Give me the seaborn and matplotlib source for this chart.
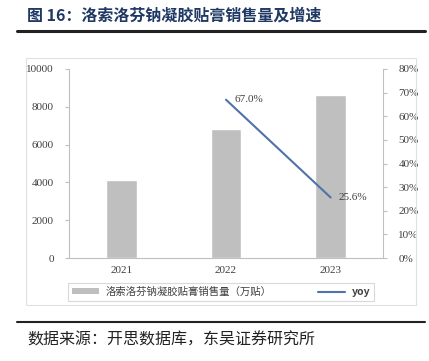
import matplotlib
matplotlib.use("Agg")
import matplotlib.pyplot as plt
from matplotlib.lines import Line2D
from matplotlib.patches import Patch, Rectangle
from matplotlib.ticker import FuncFormatter
import pandas as pd
import seaborn as sns

years = ["2021", "2022", "2023"]
sales = [4120, 6850, 8600]          # 万贴
yoy_years = ["2022", "2023"]
yoy = [0.670, 0.256]

title = "图 16：洛索洛芬钠凝胶贴膏销售量及增速"
source = "数据来源：开思数据库，东吴证券研究所"
bar_label = "洛索洛芬钠凝胶贴膏销售量（万贴）"
line_label = "yoy"

BAR_C = "#bfbfbf"
LINE_C = "#4f73a8"
AXIS_C = "#bfbfbf"
TXT_C = "#404040"

sns.set_theme(style="white")
plt.rcParams["font.family"] = ["Noto Sans CJK SC", "DejaVu Sans"]
SERIF = ["Liberation Serif", "DejaVu Serif"]

W, H = 429, 361
fig = plt.figure(figsize=(W / 100, H / 100), dpi=100)
fig.patch.set_facecolor("white")

ax = fig.add_axes([69 / W, 1 - 258 / H, (383 - 69) / W, (258 - 69) / H])
df = pd.DataFrame({"year": years, "sales": sales})
sns.barplot(data=df, x="year", y="sales", color=BAR_C, width=0.29,
            saturation=1, ax=ax, zorder=2)
ax.set_xlim(-0.5, 2.5)
ax.set_ylim(0, 10000)
ax.set_yticks(range(0, 10001, 2000))
ax.set_xlabel("")
ax.set_ylabel("")

ax2 = ax.twinx()
line_df = pd.DataFrame({"year": [years.index(y) for y in yoy_years], "yoy": yoy})
sns.lineplot(data=line_df, x="year", y="yoy", color=LINE_C, linewidth=1.5, ax=ax2)
ax2.set_ylim(0, 0.8)
ax2.set_yticks([i / 10 for i in range(9)])
ax2.yaxis.set_major_formatter(FuncFormatter(lambda v, _: f"{v * 100:.0f}%"))
ax2.set_ylabel("")
ax2.set_xlabel("")
for xi, v in zip(line_df["year"], yoy):
    ax2.annotate(f"{v * 100:.1f}%", (xi, v), xytext=(6, 0), textcoords="offset points",
                 va="center", ha="left", fontsize=8, color=TXT_C, family=SERIF)

for a in (ax, ax2):
    for s in a.spines.values():
        s.set_visible(False)
    a.tick_params(axis="both", labelsize=8, colors=AXIS_C, labelcolor=TXT_C,
                  length=3, width=0.8, pad=3)
    for lab in a.get_yticklabels() + a.get_xticklabels():
        lab.set_family(SERIF)
ax.spines["left"].set_visible(True)
ax.spines["bottom"].set_visible(True)
ax2.spines["right"].set_visible(True)
for s in (ax.spines["left"], ax.spines["bottom"], ax2.spines["right"]):
    s.set_color(AXIS_C)
    s.set_linewidth(0.8)
ax.tick_params(axis="x", length=0, pad=6)
ax.tick_params(axis="y", pad=8)
ax2.tick_params(axis="y", pad=8)

handles = [Patch(facecolor=BAR_C, edgecolor="none", label=bar_label),
           Line2D([], [], color=LINE_C, linewidth=1.5, label=line_label)]
leg = fig.legend(handles=handles, loc="center", ncol=2,
                 bbox_to_anchor=(221 / W, 1 - 292 / H), fontsize=7.5,
                 frameon=True, fancybox=False, edgecolor="#d0d0d0",
                 handlelength=2.6, handleheight=0.5, columnspacing=4.5,
                 borderpad=0.35, handletextpad=0.6)
leg.get_frame().set_linewidth(0.8)
for t in leg.get_texts():
    t.set_color(TXT_C)
leg.get_texts()[1].set_fontweight("bold")

# outer chart frame
fig.add_artist(Rectangle((26 / W, 1 - 305 / H), (416 - 26) / W, (305 - 58) / H,
                         transform=fig.transFigure, fill=False,
                         edgecolor="#e0e0e0", linewidth=0.8))

fig.text(27 / W, 1 - 16 / H, title, fontsize=11.5, fontweight="bold",
         color="#1f3864", va="center", ha="left")
fig.add_artist(Line2D([17 / W, 425 / W], [1 - 31 / H, 1 - 31 / H],
                      color="#222222", linewidth=2.2))
fig.add_artist(Line2D([17 / W, 425 / W], [1 - 322 / H, 1 - 322 / H],
                      color="#222222", linewidth=1.5))
fig.text(27 / W, 1 - 340 / H, source, fontsize=11.5, color="#222222",
         va="center", ha="left")

fig.savefig("out.png", dpi=100, facecolor="white")
